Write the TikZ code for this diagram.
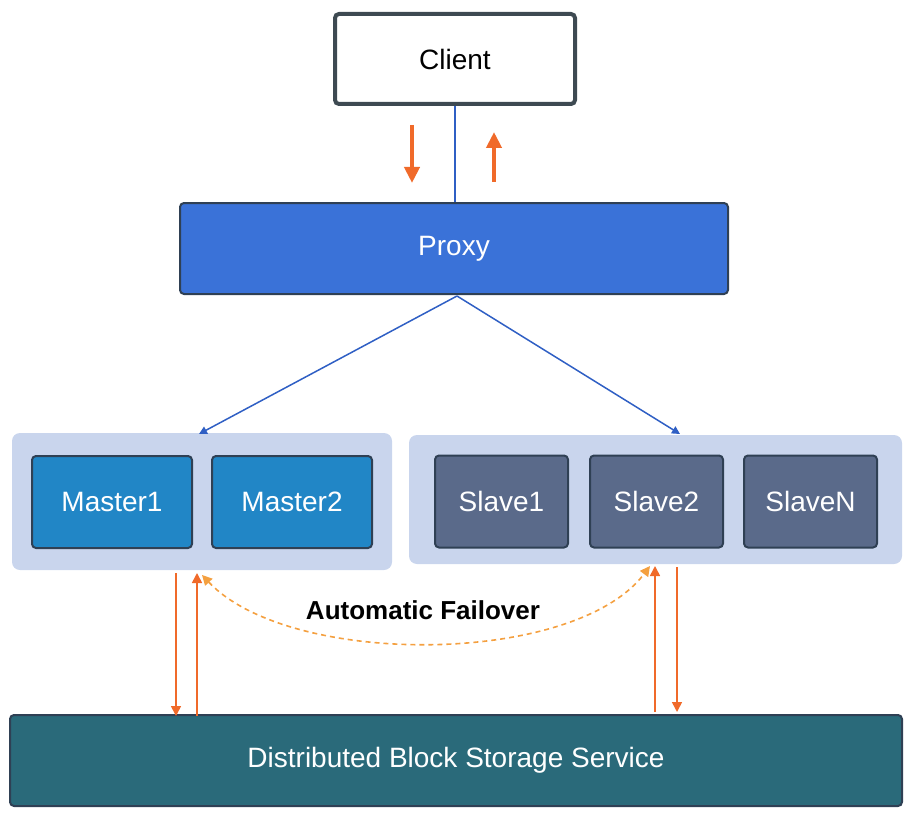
\documentclass[tikz,border=0pt]{standalone}
\usepackage{fontspec}
\setmainfont{Liberation Sans}
\usetikzlibrary{arrows.meta}
\definecolor{cborder}{HTML}{3E4A52}
\definecolor{cproxy}{HTML}{3A72D8}
\definecolor{cdark}{HTML}{2F4054}
\definecolor{cgroup}{HTML}{C9D5ED}
\definecolor{cmaster}{HTML}{2186C6}
\definecolor{cslave}{HTML}{5A6A8A}
\definecolor{cstore}{HTML}{2A6A7A}
\definecolor{cblue}{HTML}{2F5FC4}
\definecolor{corange}{HTML}{F06A2A}
\definecolor{clight}{HTML}{F4A040}
\tikzset{
  box/.style={rectangle, rounded corners=4pt, inner sep=0pt, font=\fontsize{28}{32}\selectfont},
  grp/.style={rectangle, rounded corners=8pt, fill=cgroup, inner sep=0pt},
  inner/.style={box, draw=cdark, line width=2pt, text=white, minimum width=160pt, minimum height=92pt},
  slv/.style={inner, fill=cslave, minimum width=133pt},
  blueline/.style={draw=cblue, line width=1.5pt},
  bluearrow/.style={blueline, -{Triangle[width=8pt,length=8pt]}},
  bigorange/.style={draw=corange, line width=4pt, -{Triangle[width=15pt,length=16pt]}},
  thinorange/.style={draw=corange, line width=1.6pt, -{Triangle[width=10pt,length=10pt]}},
}
\begin{document}
\begin{tikzpicture}[x=1pt,y=-1pt]
\useasboundingbox (0,0) rectangle (912,821);
% Client
\node[box, draw=cborder, line width=4pt, fill=white, minimum width=240pt, minimum height=90pt] (client) at (455,59) {Client};
% Proxy
\node[box, draw=cdark, line width=2pt, fill=cproxy, text=white, minimum width=548pt, minimum height=91pt] (proxy) at (454,248.5) {Proxy};
% groups
\node[grp, minimum width=380pt, minimum height=137pt] (mgrp) at (202,501.5) {};
\node[grp, minimum width=493pt, minimum height=129pt] (sgrp) at (655.5,499.5) {};
% masters
\node[inner, fill=cmaster] (m1) at (112,502) {Master1};
\node[inner, fill=cmaster] (m2) at (292,502) {Master2};
% slaves
\node[slv] (s1) at (501.5,501.5) {Slave1};
\node[slv] (s2) at (656.5,501.5) {Slave2};
\node[slv] (sn) at (810.5,501.5) {SlaveN};
% storage
\node[box, draw=cdark, line width=2pt, fill=cstore, text=white, minimum width=892pt, minimum height=91pt] (store) at (456,760.5) {Distributed Block Storage Service};
% client-proxy
\draw[blueline] (client.south) -- (proxy.north -| client.south);
\coordinate (d1) at (412,125); \coordinate (d2) at (412,183);
\coordinate (u1) at (494,182); \coordinate (u2) at (494,132);
\draw[bigorange] (d1) -- (d2);
\draw[bigorange] (u1) -- (u2);
% proxy to groups
\coordinate (pm) at (199,434);
\coordinate (ps) at (680,434);
\coordinate (pt) at (457,296);
\draw[bluearrow] (pt) -- (pm);
\draw[bluearrow] (pt) -- (ps);
% storage arrows
\coordinate (a1) at (176,573); \coordinate (a2) at (176,716);
\coordinate (b1) at (197,716); \coordinate (b2) at (197,573);
\coordinate (c1) at (655,712); \coordinate (c2) at (655,566);
\coordinate (e1) at (677,567); \coordinate (e2) at (677,712);
\draw[thinorange] (a1) -- (a2);
\draw[thinorange] (b1) -- (b2);
\draw[thinorange] (c1) -- (c2);
\draw[thinorange] (e1) -- (e2);
% failover
\coordinate (fr) at (650,566);
\coordinate (fl) at (202,575);
\draw[draw=clight, line width=1.6pt, dash pattern=on 5pt off 4pt, {Triangle[width=10pt,length=10pt]}-{Triangle[width=10pt,length=10pt]}]
  (fl) .. controls (290,668) and (575,666) .. (fr);
\node[font=\bfseries\fontsize{26}{30}\selectfont, inner sep=0pt] (lbl) at (423,610) {Automatic Failover};
\end{tikzpicture}
\end{document}
